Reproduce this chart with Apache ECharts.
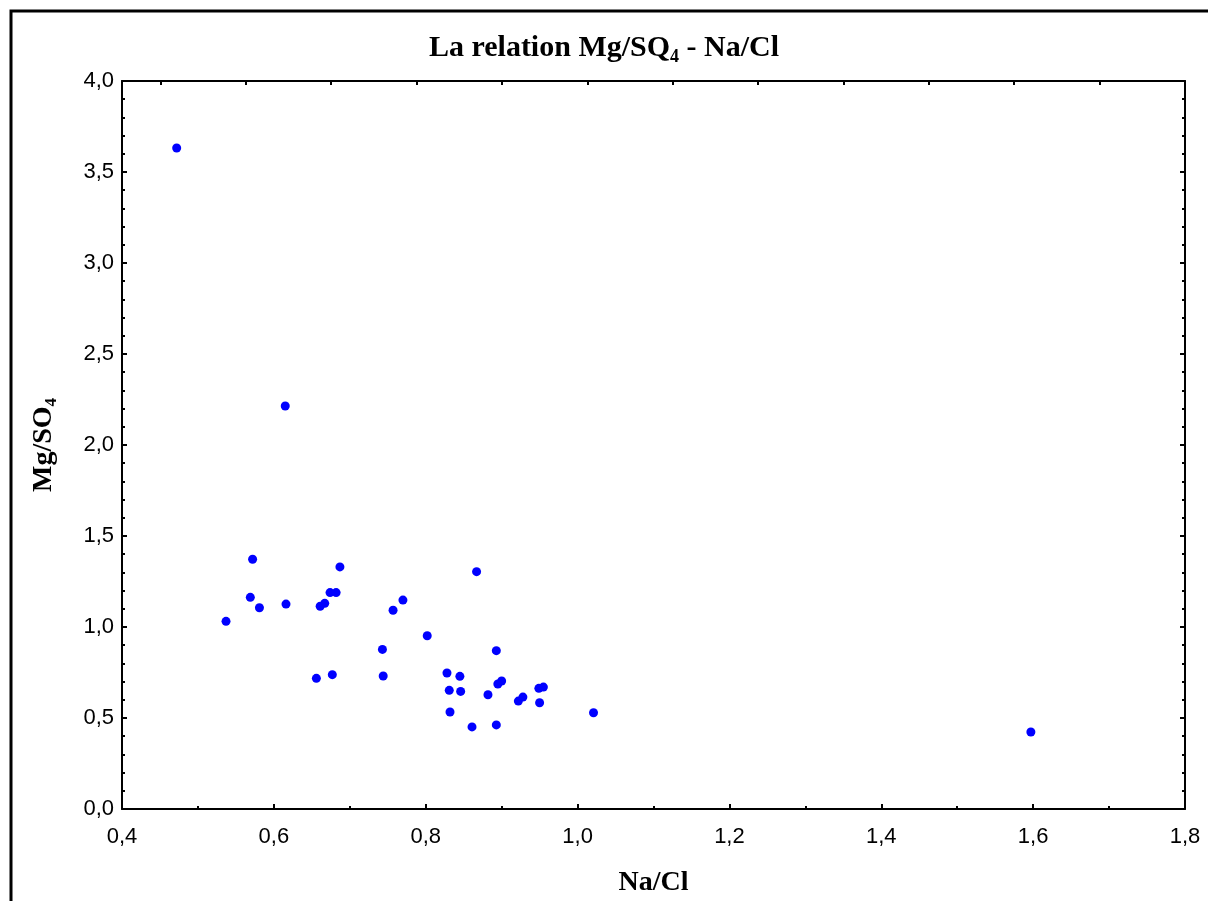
<!DOCTYPE html>
<html>
<head>
<meta charset="utf-8">
<script src="https://cdn.jsdelivr.net/npm/echarts@6/dist/echarts.min.js"></script>
<style>
html,body{margin:0;padding:0;background:#fff;}
#chart{width:1208px;height:901px;}
</style>
</head>
<body>
<div id="chart"></div>
<script>
// Data
const naCl = [0.472, 0.615, 0.572, 0.687, 0.569, 0.581, 0.616, 0.674, 0.682, 0.661,
              0.667, 0.537, 0.757, 0.770, 0.743, 0.656, 0.677, 0.744, 0.867, 0.802,
              0.893, 0.828, 0.845, 0.831, 0.846, 0.832, 0.861, 0.893, 0.882, 0.895,
              0.900, 0.922, 0.928, 0.949, 0.955, 0.950, 1.021, 1.597];
const mgSO4 = [3.632, 2.214, 1.372, 1.330, 1.163, 1.106, 1.126, 1.189, 1.189, 1.114,
               1.130, 1.031, 1.092, 1.148, 0.877, 0.718, 0.738, 0.731, 1.304, 0.952,
               0.870, 0.747, 0.729, 0.652, 0.646, 0.533, 0.451, 0.462, 0.628, 0.687,
               0.703, 0.593, 0.615, 0.663, 0.670, 0.584, 0.529, 0.423];
const xTicks = {min: 0.4, max: 1.8, step: 0.2};
const yTicks = {min: 0.0, max: 4.0, step: 0.5};
const titleText = ['La relation Mg/SQ', '4', ' - Na/Cl'];
const xName = 'Na/Cl';
const yName = ['Mg/SO', '4'];

const points = naCl.map((x, i) => [x, mgSO4[i]]);
const fmt = v => v.toFixed(1).replace('.', ',');

const chart = echarts.init(document.getElementById('chart'), null, {renderer: 'canvas'});
const serif = 'Liberation Serif';
const sans = 'Liberation Sans';

chart.setOption({
  animation: false,
  backgroundColor: '#fff',
  title: {
    text: '{a|' + titleText[0] + '}{b|' + titleText[1] + '}{a|' + titleText[2] + '}',
    left: 'center',
    top: 28,
    textStyle: {
      rich: {
        a: {fontFamily: serif, fontWeight: 'bold', fontSize: 30, color: '#000', lineHeight: 32, verticalAlign: 'top'},
        b: {fontFamily: serif, fontWeight: 'bold', fontSize: 18, color: '#000', lineHeight: 48}
      }
    }
  },
  graphic: [{
    type: 'rect',
    silent: true,
    shape: {x: 11, y: 11, width: 1400, height: 1100},
    style: {fill: 'none', stroke: '#000', lineWidth: 3}
  }],
  grid: {left: 122, right: 23, top: 81, bottom: 92, containLabel: false, outerBoundsMode: 'none'},
  xAxis: [{
    type: 'value',
    position: 'bottom',
    min: xTicks.min, max: xTicks.max, interval: xTicks.step,
    name: xName,
    nameLocation: 'middle',
    nameGap: 60,
    nameTextStyle: {fontFamily: serif, fontWeight: 'bold', fontSize: 28, color: '#000'},
    axisLine: {show: true, onZero: false, lineStyle: {color: '#000', width: 2}},
    axisTick: {show: true, inside: true, length: 5, lineStyle: {color: '#000', width: 2}},
    minorTick: {show: true, splitNumber: 2, length: 3, lineStyle: {color: '#000', width: 2}},
    axisLabel: {formatter: fmt, fontFamily: sans, fontSize: 22, color: '#000', margin: 17},
    splitLine: {show: false}
  }, {
    type: 'value',
    position: 'top',
    inverse: true,
    min: 0, max: 12.45, interval: 1,
    axisLine: {show: true, onZero: false, lineStyle: {color: '#000', width: 2}},
    axisTick: {show: true, inside: true, length: 4, lineStyle: {color: '#000', width: 2}},
    axisLabel: {show: false},
    splitLine: {show: false}
  }],
  yAxis: [{
    type: 'value',
    position: 'left',
    min: yTicks.min, max: yTicks.max, interval: yTicks.step,
    name: '{a|' + yName[0] + '}{b|' + yName[1] + '}',
    nameLocation: 'middle',
    nameGap: 48,
    nameRotate: 90,
    nameTextStyle: {
      rich: {
        a: {fontFamily: serif, fontWeight: 'bold', fontSize: 28, color: '#000', lineHeight: 30, verticalAlign: 'top'},
        b: {fontFamily: serif, fontWeight: 'bold', fontSize: 17, color: '#000', lineHeight: 44}
      }
    },
    axisLine: {show: true, onZero: false, lineStyle: {color: '#000', width: 2}},
    axisTick: {show: true, inside: true, length: 5, lineStyle: {color: '#000', width: 2}},
    minorTick: {show: true, splitNumber: 5, length: 3, lineStyle: {color: '#000', width: 2}},
    axisLabel: {formatter: fmt, fontFamily: sans, fontSize: 22, color: '#000', margin: 8},
    splitLine: {show: false}
  }, {
    type: 'value',
    position: 'right',
    min: yTicks.min, max: yTicks.max, interval: yTicks.step,
    axisLine: {show: true, onZero: false, lineStyle: {color: '#000', width: 2}},
    axisTick: {show: true, inside: true, length: 5, lineStyle: {color: '#000', width: 2}},
    minorTick: {show: true, splitNumber: 5, length: 3, lineStyle: {color: '#000', width: 2}},
    axisLabel: {show: false},
    splitLine: {show: false}
  }],
  series: [{
    type: 'scatter',
    xAxisIndex: 0,
    yAxisIndex: 0,
    data: points,
    symbol: 'circle',
    symbolSize: 9,
    itemStyle: {color: '#0000ff', opacity: 1},
    emphasis: {disabled: true}
  }]
});
</script>
</body>
</html>
